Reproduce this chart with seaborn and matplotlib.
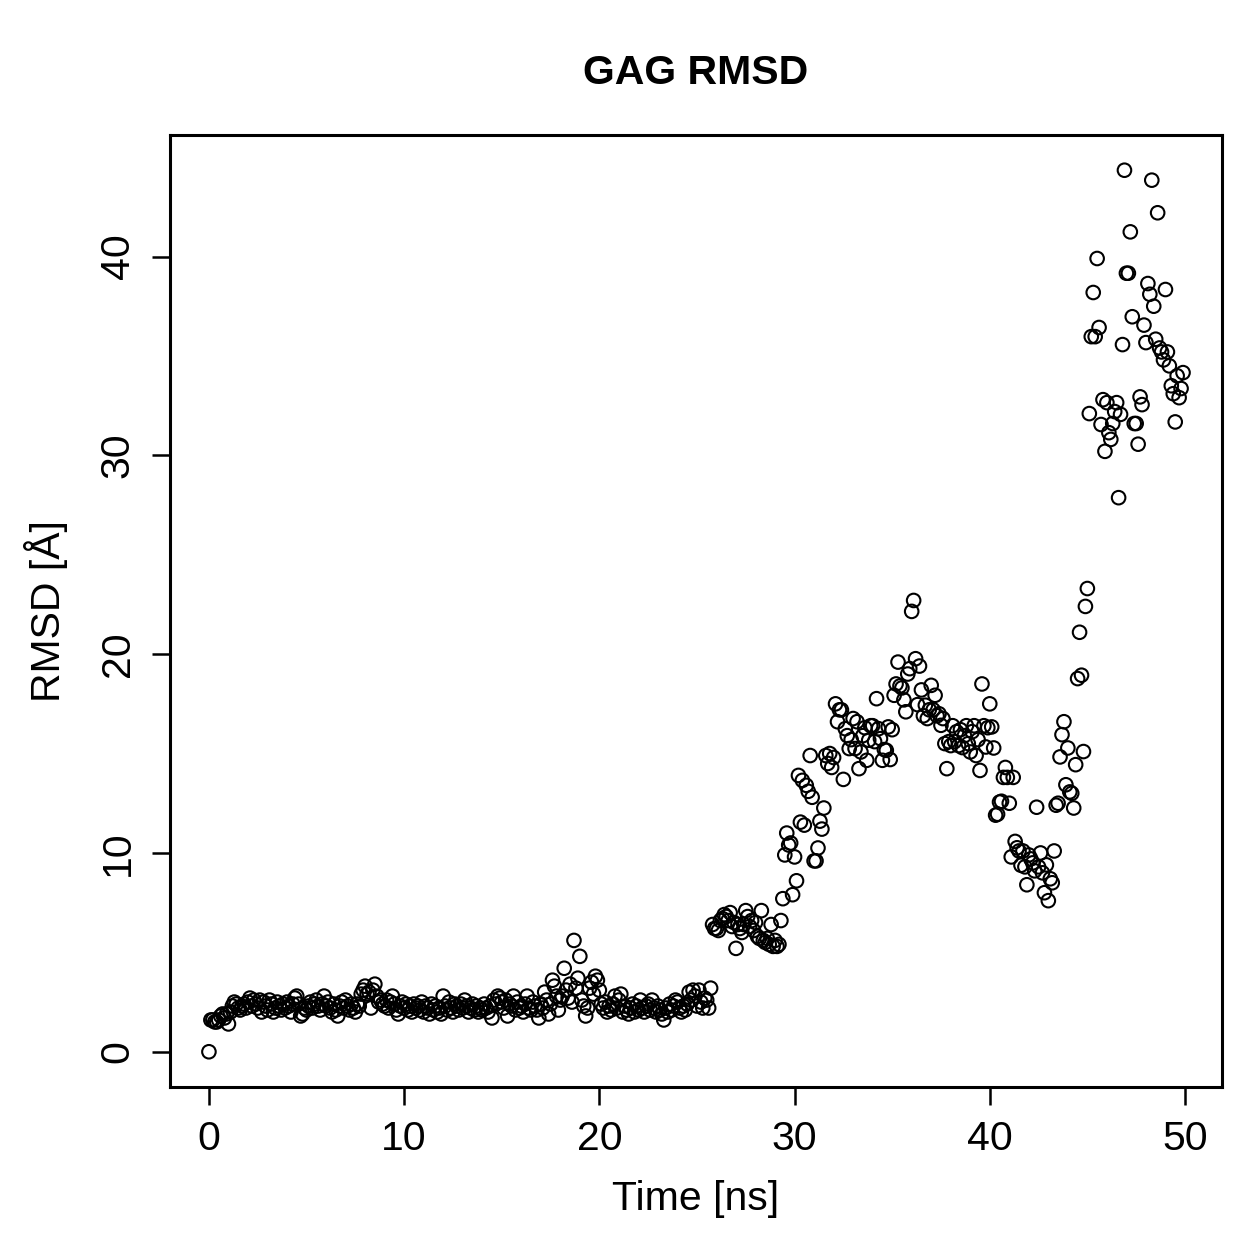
import numpy as np
import pandas as pd
import matplotlib
matplotlib.use('Agg')
import matplotlib.pyplot as plt
import seaborn as sns

# RMSD of GAG, one frame every 0.1 ns
rmsd_00_10 = [0.0, 1.6, 1.6, 1.5, 1.5, 1.6, 1.8, 1.9, 1.7, 1.9,
              1.4, 2.0, 2.3, 2.5, 2.4, 2.2, 2.1, 2.3, 2.4, 2.2,
              2.5, 2.7, 2.3, 2.6, 2.4, 2.2, 2.6, 2.0, 2.5, 2.3,
              2.1, 2.6, 2.4, 2.0, 2.2, 2.5, 2.3, 2.1, 2.4, 2.2,
              2.5, 2.3, 2.0, 2.4, 2.7, 2.8, 2.4, 1.8, 1.9, 2.2,
              2.1, 2.3, 2.5, 2.2, 2.4, 2.6, 2.3, 2.1, 2.4, 2.8,
              2.3, 2.5, 2.2, 2.0, 2.4, 2.1, 1.8, 2.3, 2.5, 2.2,
              2.6, 2.3, 2.1, 2.4, 2.2, 2.0, 2.4, 2.3, 2.9, 3.1,
              3.3, 2.9, 3.0, 2.2, 3.1, 3.4, 2.8, 2.5, 2.6, 2.4,
              2.3, 2.6, 2.2, 2.5, 2.8, 2.4, 2.1, 1.9, 2.3, 2.5]
rmsd_10_20 = [2.2, 2.4, 2.1, 2.3, 2.0, 2.4, 2.2, 2.3, 2.1, 2.5,
              2.0, 2.3, 2.2, 1.9, 2.4, 2.1, 2.3, 2.0, 2.2, 1.9,
              2.8, 2.3, 2.1, 2.5, 2.2, 2.0, 2.4, 2.3, 2.1, 2.4,
              2.2, 2.6, 2.3, 2.0, 2.2, 2.4, 2.1, 2.3, 2.0, 2.2,
              2.1, 2.4, 2.2, 2.0, 2.3, 1.7, 2.6, 2.4, 2.8, 2.7,
              2.5, 2.2, 2.6, 1.8, 2.4, 2.3, 2.8, 2.1, 2.5, 2.2,
              2.3, 2.0, 2.4, 2.8, 2.2, 2.1, 2.5, 2.3, 2.1, 1.7,
              2.4, 2.2, 3.0, 2.6, 1.9, 2.4, 3.6, 3.3, 2.8, 2.1,
              2.6, 2.8, 4.2, 3.1, 2.7, 3.4, 2.5, 5.6, 3.2, 3.7,
              4.8, 2.6, 2.3, 1.8, 2.2, 3.2, 3.5, 2.9, 3.8, 3.6]
rmsd_20_30 = [3.1, 2.4, 2.2, 2.5, 2.0, 2.3, 2.1, 2.4, 2.8, 2.2,
              2.6, 2.9, 2.0, 2.3, 2.1, 1.9, 2.2, 2.4, 2.0, 2.3,
              2.1, 2.6, 2.2, 2.0, 2.3, 2.4, 2.1, 2.6, 2.2, 2.0,
              2.3, 2.1, 1.9, 1.6, 2.2, 2.0, 2.4, 2.1, 2.3, 2.6,
              2.5, 2.2, 2.0, 2.3, 2.1, 2.4, 3.0, 2.6, 3.1, 2.8,
              2.3, 3.1, 2.5, 2.2, 2.7, 2.6, 2.2, 3.2, 6.4, 6.2,
              6.2, 6.1, 6.6, 6.7, 6.9, 6.8, 6.6, 7.0, 6.3, 6.5,
              5.2, 6.4, 6.2, 6.0, 6.4, 7.1, 6.8, 6.3, 6.6, 6.1,
              6.5, 5.8, 5.7, 7.1, 5.6, 5.5, 5.7, 5.4, 6.4, 5.3,
              5.6, 5.3, 5.4, 6.6, 7.7, 9.9, 11.0, 10.4, 10.5, 7.9]
rmsd_30_40 = [9.8, 8.6, 13.9, 11.55, 13.65, 11.4, 13.4, 13.1, 14.9, 12.8,
              9.6, 9.6, 10.25, 11.6, 11.2, 12.26, 14.9, 14.5, 15.0, 14.3,
              14.8, 17.5, 16.6, 17.2, 17.2, 13.7, 16.25, 15.9, 15.25, 15.7,
              16.76, 15.25, 16.6, 14.24, 15.08, 15.9, 16.3, 14.66, 15.67, 16.4,
              16.4, 15.6, 17.76, 16.25, 15.75, 14.66, 15.2, 15.16, 16.34, 14.7,
              16.2, 17.93, 18.5, 19.6, 18.4, 18.3, 17.7, 17.1, 19.0, 19.27,
              22.15, 22.7, 19.77, 17.46, 19.4, 18.2, 16.9, 17.43, 16.76, 17.2,
              18.43, 17.2, 17.93, 16.9, 17.0, 16.42, 16.76, 15.5, 14.24, 15.6,
              15.4, 16.4, 15.6, 16.1, 15.4, 16.2, 15.3, 15.9, 16.4, 15.5,
              15.08, 16.1, 16.4, 14.9, 15.7, 14.15, 18.5, 16.4, 15.33, 16.3]
rmsd_40_50 = [17.5, 16.34, 15.28, 11.9, 11.95, 12.56, 12.6, 13.8, 14.3, 13.8,
              12.5, 9.8, 13.8, 10.58, 10.26, 10.1, 9.38, 10.1, 9.3, 8.4,
              9.9, 9.7, 9.5, 9.1, 12.3, 9.3, 10.0, 9.0, 8.0, 9.4,
              7.6, 8.7, 8.5, 10.1, 12.4, 12.5, 14.83, 15.95, 16.6, 13.43,
              15.28, 13.07, 13.0, 12.26, 14.44, 18.77, 21.1, 18.94, 15.1, 22.4,
              23.3, 32.1, 35.97, 38.19, 35.97, 39.9, 36.43, 31.55, 32.8, 30.2,
              32.65, 31.14, 30.8, 31.6, 32.2, 32.65, 27.87, 32.06, 35.57, 44.34,
              39.16, 39.16, 41.24, 36.97, 31.6, 31.6, 30.56, 32.94, 32.55, 36.55,
              35.67, 38.64, 38.1, 43.84, 37.5, 35.84, 42.2, 35.4, 35.2, 34.8,
              38.34, 35.2, 34.5, 33.5, 33.1, 31.68, 34.0, 32.9, 33.36, 34.16]

rmsd = rmsd_00_10 + rmsd_10_20 + rmsd_20_30 + rmsd_30_40 + rmsd_40_50
time_ns = np.round(np.arange(len(rmsd)) * 0.1, 1)
df = pd.DataFrame({'time': time_ns, 'rmsd': rmsd})

plt.rcParams['font.family'] = ['Liberation Sans', 'DejaVu Sans']

fig = plt.figure(figsize=(12.59, 12.59), dpi=100)
ax = fig.add_axes([0.135, 0.1366, 0.8356, 0.7562])

sns.scatterplot(data=df, x='time', y='rmsd', ax=ax, marker='o', s=95,
                linewidth=1.5, legend=False)
pts = ax.collections[0]
pts.set_facecolor('none')
pts.set_edgecolor('black')

# R-style 4% padding
xr = df['time'].max() - df['time'].min()
yr = df['rmsd'].max() - df['rmsd'].min()
ax.set_xlim(df['time'].min() - 0.04 * xr, df['time'].max() + 0.04 * xr)
ax.set_ylim(df['rmsd'].min() - 0.04 * yr, df['rmsd'].max() + 0.04 * yr)

ax.set_xticks([0, 10, 20, 30, 40, 50])
ax.set_yticks([0, 10, 20, 30, 40])
ax.tick_params(length=13, width=1.8, pad=11, labelsize=29.5)
for lab in ax.get_yticklabels():
    lab.set_rotation(90)
    lab.set_va('center')
for sp in ax.spines.values():
    sp.set_linewidth(2.2)

ax.set_xlabel('Time [ns]', fontsize=29.5)
ax.set_ylabel('RMSD [Å]', fontsize=29.5)
ax.xaxis.set_label_coords(0.5, -0.098)
ax.yaxis.set_label_coords(-0.097, 0.5)

fig.text(0.5528, 0.9333, 'GAG RMSD', ha='center', va='baseline',
         fontsize=29.5, fontweight='bold')

fig.savefig('out.png', dpi=100)
